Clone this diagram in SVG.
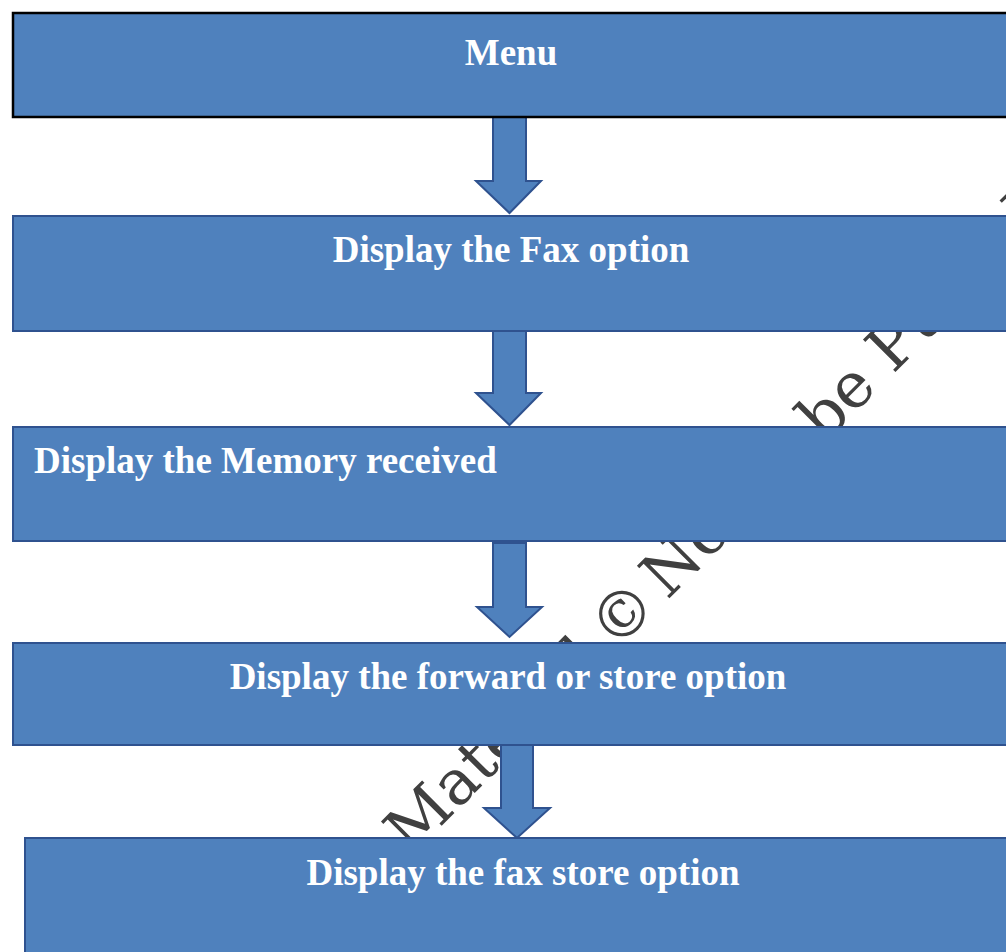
<svg xmlns="http://www.w3.org/2000/svg" width="1006" height="952" viewBox="0 0 1006 952">
  <style>
    .box { fill: #4F81BD; stroke: #2F528F; stroke-width: 2; }
    .box-top { fill: #4F81BD; stroke: #000000; stroke-width: 2.5; }
    .arrow { fill: #4F81BD; stroke: #2F528F; stroke-width: 2; stroke-linejoin: miter; }
    .label { font-family: "Liberation Serif", "Times New Roman", serif; font-weight: bold; font-size: 37px; fill: #FFFFFF; }
    .mark { font-family: "DejaVu Serif", serif; font-size: 63px; fill: #404040; }
  </style>

  <rect width="1006" height="952" fill="#FFFFFF"/>

  <!-- diagonal watermark, sits behind everything -->
  <text class="mark" transform="translate(405 850) rotate(-45)" y="9"><tspan x="0">Material</tspan><tspan x="289">©</tspan><tspan x="362">Not to be Published</tspan></text>

  <g id="connectors">
    <polygon class="arrow" points="493,117 526,117 526,181 541,181 509.5,213 476,181 493,181"/>
    <polygon class="arrow" points="493,331 526,331 526,393 541,393 509.5,425 476,393 493,393"/>
    <polygon class="arrow" points="493,543 526,543 526,607 542,607 509.5,637 477,607 493,607"/>
    <polygon class="arrow" points="501,745 533,745 533,808 550,808 517,838 484,808 501,808"/>
  </g>

  <g id="node-menu">
    <rect class="box-top" x="13" y="13" width="1010" height="104"/>
    <text class="label" x="511" y="65" text-anchor="middle">Menu</text>
  </g>

  <g id="node-fax-option">
    <rect class="box" x="13" y="216" width="1010" height="115"/>
    <text class="label" x="511" y="262" text-anchor="middle">Display the Fax option</text>
  </g>

  <g id="node-memory-received">
    <rect class="box" x="13" y="427" width="1010" height="114"/>
    <text class="label" x="34" y="473">Display the Memory received</text>
  </g>

  <g id="node-forward-store">
    <rect class="box" x="13" y="643" width="1010" height="102"/>
    <text class="label" x="508" y="689" text-anchor="middle">Display the forward or store option</text>
  </g>

  <g id="node-fax-store">
    <rect class="box" x="25" y="838" width="1000" height="130"/>
    <text class="label" x="523" y="885" text-anchor="middle">Display the fax store option</text>
  </g>
</svg>
